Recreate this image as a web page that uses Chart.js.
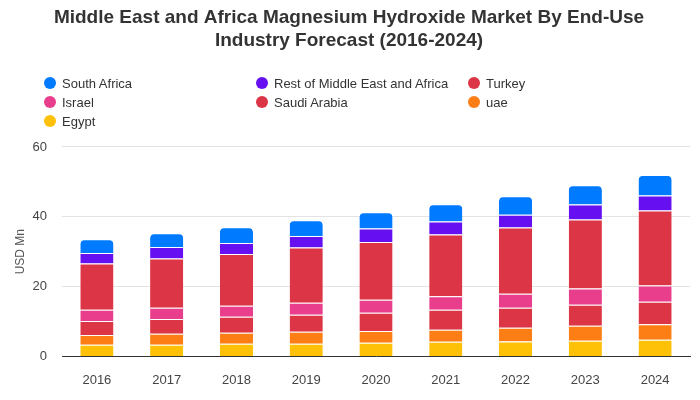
<!DOCTYPE html>
<html>
<head>
<meta charset="utf-8">
<script src="https://cdn.jsdelivr.net/npm/chart.js@4.4.1/dist/chart.umd.min.js"></script>
<style>
  body { margin: 0; background: #fff; font-family: "Liberation Sans", Arial, sans-serif; }
  #wrap { position: relative; width: 700px; height: 400px; }
  #legend { position: absolute; left: 44px; top: 74px; width: 650px; display: grid;
            grid-template-columns: 212px 212px 212px; row-gap: 1px; }
  .item { display: flex; align-items: center; height: 18px; font-size: 13px; color: #333; }
  .dot { width: 12px; height: 12px; border-radius: 50%; margin-right: 6px; }
</style>
</head>
<body>
<div id="wrap">
  <canvas id="chart" width="700" height="400"></canvas>
  <div id="legend"></div>
</div>
<script>
var years = ['2016', '2017', '2018', '2019', '2020', '2021', '2022', '2023', '2024'];

// stacked bottom to top
var egypt       = [3.35, 3.35, 3.63, 3.63, 3.92, 4.21, 4.30, 4.50, 4.78];
var uae         = [2.77, 3.15, 3.16, 3.45, 3.35, 3.44, 3.93, 4.30, 4.40];
var saudiArabia = [4.02, 4.21, 4.59, 4.88, 5.26, 5.74, 5.73, 6.03, 6.51];
var israel      = [3.25, 3.25, 3.16, 3.44, 3.73, 3.83, 4.02, 4.59, 4.59];
var turkey      = [13.2, 14.06, 14.82, 15.78, 16.55, 17.69, 18.94, 19.80, 21.52];
var restMEA     = [3.06, 3.35, 3.16, 3.35, 3.82, 3.73, 3.63, 4.30, 4.30];
var southAfrica = [3.92, 3.92, 4.50, 4.49, 4.69, 4.98, 5.36, 5.55, 5.84];

var yTicks = [0, 20, 40, 60];

function ds(label, data, color) {
    return {
        label: label,
        data: data,
        backgroundColor: color,
        borderColor: '#ffffff',
        borderWidth: {top: 1, bottom: 0, left: 0, right: 0},
        borderSkipped: false,
        barPercentage: 0.5,
        categoryPercentage: 0.95
    };
}

var datasets = [
    ds('Egypt', egypt, '#ffc107'),
    ds('uae', uae, '#fd7e14'),
    ds('Saudi Arabia', saudiArabia, '#dc3545'),
    ds('Israel', israel, '#e83e8c'),
    ds('Turkey', turkey, '#dc3545'),
    ds('Rest of Middle East and Africa', restMEA, '#6610f2'),
    ds('South Africa', southAfrica, '#007bff')
];
datasets[6].borderRadius = {topLeft: 5, topRight: 5, bottomLeft: 0, bottomRight: 0};

var chart = new Chart(document.getElementById('chart'), {
    type: 'bar',
    data: { labels: years, datasets: datasets },
    options: {
        responsive: false,
        animation: false,
        layout: { padding: { left: 8, right: 10, bottom: 4 } },
        plugins: {
            legend: { display: false },
            tooltip: { enabled: false },
            title: {
                display: true,
                text: ['Middle East and Africa Magnesium Hydroxide Market By End-Use', 'Industry Forecast (2016-2024)'],
                color: '#333',
                font: { family: 'Liberation Sans', size: 19, weight: 'bold', lineHeight: 1.21 },
                padding: { top: 6.5, bottom: 94.5 }
            }
        },
        scales: {
            x: {
                stacked: true,
                grid: { display: false },
                border: { display: true, color: '#333', width: 1 },
                ticks: { color: '#444', font: { family: 'Liberation Sans', size: 13 }, padding: 8 }
            },
            y: {
                stacked: true,
                min: 0,
                max: 60,
                afterBuildTicks: function (axis) {
                    axis.ticks = yTicks.map(function (v) { return { value: v }; });
                },
                afterFit: function (axis) { axis.width = 54; },
                grid: { color: '#e3e3e3', drawTicks: false },
                border: { display: false },
                ticks: { color: '#444', font: { family: 'Liberation Sans', size: 13 }, padding: 15 },
                title: {
                    display: true,
                    text: 'USD Mn',
                    color: '#555',
                    font: { family: 'Liberation Sans', size: 12 },
                    padding: { top: 5, bottom: 0 }
                }
            }
        }
    }
});

// legend laid out in fixed columns, newest dataset first
var legend = document.getElementById('legend');
datasets.slice().reverse().forEach(function (d) {
    var item = document.createElement('div');
    item.className = 'item';
    item.innerHTML = '<span class="dot" style="background:' + d.backgroundColor + '"></span>' + d.label;
    legend.appendChild(item);
});
</script>
</body>
</html>
